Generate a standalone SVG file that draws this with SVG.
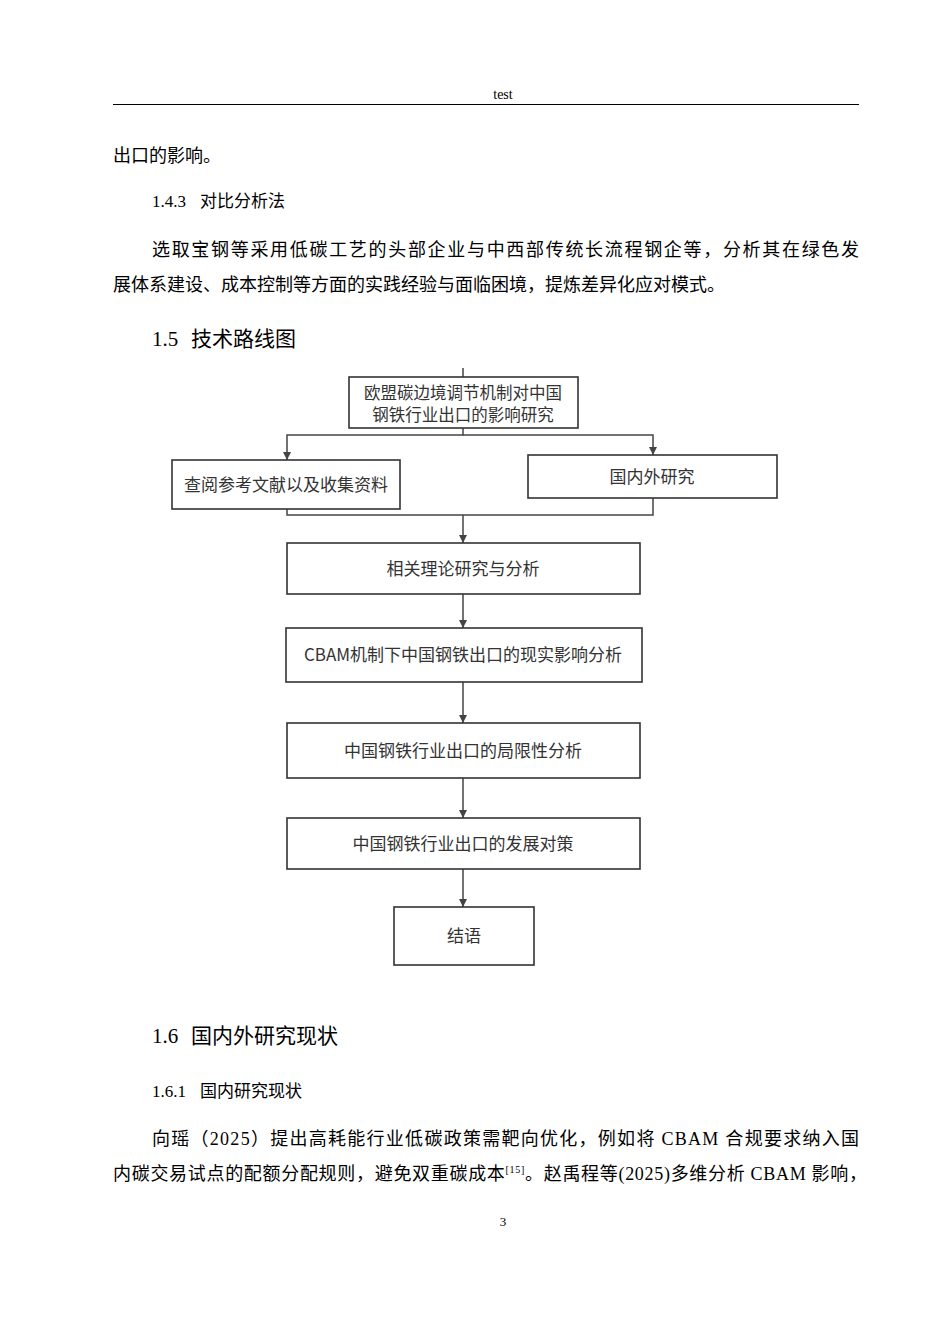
<svg xmlns="http://www.w3.org/2000/svg" width="950" height="1344" viewBox="0 0 950 1344">
<style>
.b{font-family:"Liberation Serif","Noto Sans CJK SC",serif;fill:#000}
.t{font-size:18px}
.n rect{fill:#fff;stroke:#333;stroke-width:1.6}
.n text{font-family:"Noto Sans CJK SC","Liberation Sans",sans-serif;font-size:17px;fill:#333;text-anchor:middle}
#conn path{fill:none;stroke:#444;stroke-width:1.5}
</style>
<defs><marker id="a" viewBox="0 0 10 10" refX="10" refY="5" markerWidth="8" markerHeight="9" orient="auto" markerUnits="userSpaceOnUse"><path d="M0,0L10,5L0,10z" fill="#444"/></marker></defs>
<rect width="950" height="1344" fill="#fff"/>
<text class="b" x="503" y="99" font-size="14" text-anchor="middle">test</text>
<line x1="113" y1="104.5" x2="859" y2="104.5" stroke="#000" stroke-width="1.2"/>
<text class="b t" x="113" y="162">出口的影响。</text>
<text class="b" x="152" y="207" font-size="17">1.4.3<tspan x="200">对比分析法</tspan></text>
<text class="b t" x="152" y="256" textLength="707" lengthAdjust="spacing">选取宝钢等采用低碳工艺的头部企业与中西部传统长流程钢企等，分析其在绿色发</text>
<text class="b t" x="113" y="291">展体系建设、成本控制等方面的实践经验与面临困境，提炼差异化应对模式。</text>
<text class="b" x="152" y="346" font-size="21">1.5<tspan x="191">技术路线图</tspan></text>
<g id="conn">
<path d="M463,368V377"/>
<path d="M463,428V435H287V460" marker-end="url(#a)"/>
<path d="M463,435H653V455" marker-end="url(#a)"/>
<path d="M287,509V515H653V498"/>
<path d="M463,515V543" marker-end="url(#a)"/>
<path d="M463,594V628" marker-end="url(#a)"/>
<path d="M463,682V723" marker-end="url(#a)"/>
<path d="M463,778V818" marker-end="url(#a)"/>
<path d="M463,869V907" marker-end="url(#a)"/>
</g>
<g id="n1" class="n"><rect x="349" y="377" width="229" height="51"/><text x="463" y="399" style="font-size:16.5px">欧盟碳边境调节机制对中国</text><text x="463" y="421" style="font-size:16.5px">钢铁行业出口的影响研究</text></g>
<g id="n2" class="n"><rect x="172" y="460" width="228" height="49"/><text x="286" y="491">查阅参考文献以及收集资料</text></g>
<g id="n3" class="n"><rect x="528" y="455" width="249" height="43"/><text x="652" y="483">国内外研究</text></g>
<g id="n4" class="n"><rect x="287" y="543" width="353" height="51"/><text x="463" y="575">相关理论研究与分析</text></g>
<g id="n5" class="n"><rect x="286" y="628" width="356" height="54"/><text x="463" y="661">CBAM机制下中国钢铁出口的现实影响分析</text></g>
<g id="n6" class="n"><rect x="287" y="723" width="353" height="55"/><text x="463" y="757">中国钢铁行业出口的局限性分析</text></g>
<g id="n7" class="n"><rect x="287" y="818" width="353" height="51"/><text x="463" y="850">中国钢铁行业出口的发展对策</text></g>
<g id="n8" class="n"><rect x="394" y="907" width="140" height="58"/><text x="464" y="942">结语</text></g>
<text class="b" x="152" y="1043" font-size="21">1.6<tspan x="191">国内外研究现状</tspan></text>
<text class="b" x="152" y="1097" font-size="17">1.6.1<tspan x="200">国内研究现状</tspan></text>
<text class="b t" x="152" y="1145" textLength="707" lengthAdjust="spacing">向瑶（2025）提出高耗能行业低碳政策需靶向优化，例如将 CBAM 合规要求纳入国</text>
<text class="b t" x="113" y="1180" textLength="754" lengthAdjust="spacing">内碳交易试点的配额分配规则，避免双重碳成本<tspan font-size="10" dy="-7">[15]</tspan><tspan dy="7">。赵禹程等(2025)多维分析 CBAM 影响，</tspan></text>
<text class="b" x="503" y="1226" font-size="13" text-anchor="middle">3</text>
</svg>
